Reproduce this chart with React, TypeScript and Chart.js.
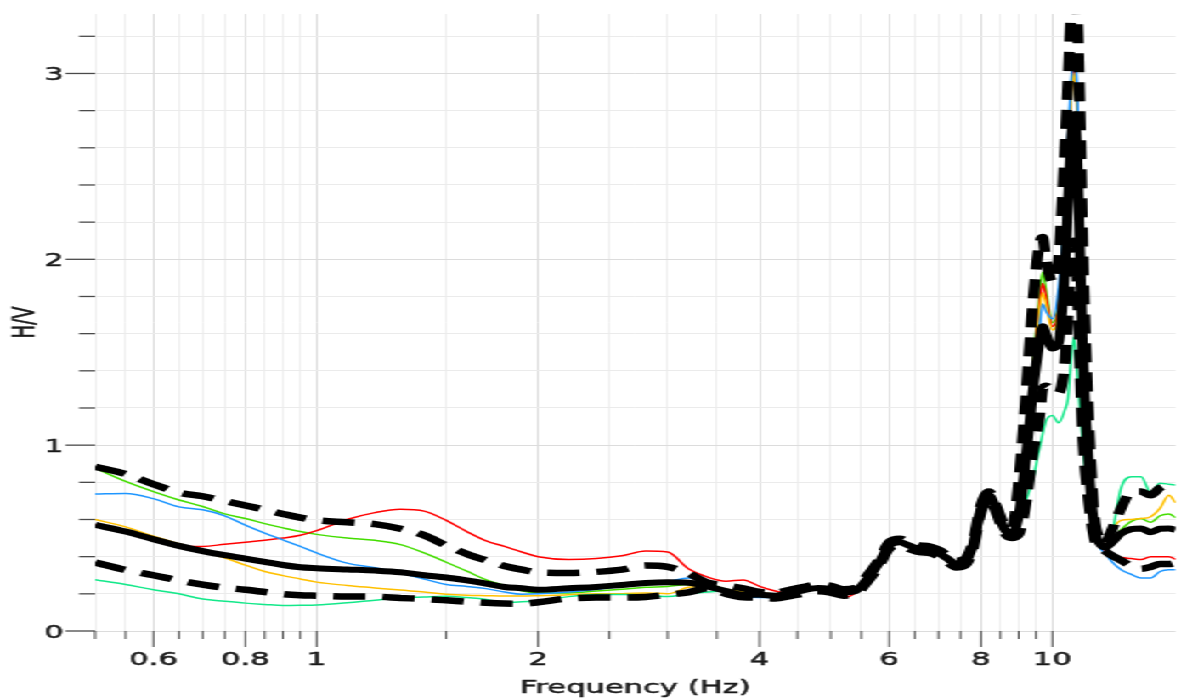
import { useEffect, useRef } from 'react';
import { Chart, registerables } from 'chart.js';

Chart.register(...registerables);

// Frequencies (Hz) at which the H/V curves are sampled
const FREQ = [
  0.5, 0.55, 0.6, 0.65, 0.7, 0.75, 0.8, 0.85, 0.9, 0.95,
  1.0, 1.1, 1.2, 1.3, 1.4, 1.5, 1.6, 1.7, 1.8, 1.9,
  2.0, 2.2, 2.4, 2.6, 2.8, 3.0, 3.2, 3.4, 3.6, 3.8,
  4.0, 4.2, 4.4, 4.6, 4.8, 5.0, 5.2, 5.4, 5.6, 5.8,
  6.0, 6.2, 6.4, 6.6, 6.8, 7.0, 7.2, 7.4, 7.6, 7.8,
  8.0, 8.2, 8.4, 8.6, 8.8, 9.0, 9.2, 9.4, 9.6, 9.7,
  9.8, 10.0, 10.2, 10.4, 10.5, 10.6, 10.7, 10.8, 10.9, 11.0,
  11.2, 11.4, 11.6, 11.8, 12.0, 12.4, 12.8, 13.2, 13.6, 14.0,
  14.4, 14.7,
];

const HV_MEAN = [
  0.571, 0.535, 0.494, 0.458, 0.43, 0.408, 0.39, 0.372, 0.355, 0.343,
  0.338, 0.331, 0.325, 0.316, 0.3, 0.288, 0.272, 0.255, 0.237, 0.23,
  0.222, 0.23, 0.237, 0.248, 0.258, 0.262, 0.26, 0.24, 0.215, 0.195,
  0.195, 0.19, 0.205, 0.22, 0.232, 0.225, 0.208, 0.215, 0.28, 0.36,
  0.46, 0.478, 0.458, 0.442, 0.438, 0.42, 0.39, 0.36, 0.37, 0.46,
  0.66, 0.73, 0.65, 0.55, 0.52, 0.62, 0.92, 1.28, 1.55, 1.64,
  1.6, 1.52, 1.55, 1.95, 2.3, 2.62, 2.78, 2.6, 2.05, 1.5,
  0.9, 0.56, 0.47, 0.45, 0.47, 0.525, 0.548, 0.552, 0.532, 0.55,
  0.552, 0.545,
];

const HV_UPPER = [
  0.884, 0.845, 0.79, 0.745, 0.725, 0.7, 0.675, 0.653, 0.63, 0.61,
  0.596, 0.585, 0.575, 0.55, 0.515, 0.46, 0.415, 0.38, 0.35, 0.33,
  0.315, 0.312, 0.318, 0.33, 0.352, 0.345, 0.31, 0.26, 0.245, 0.23,
  0.21, 0.205, 0.222, 0.238, 0.25, 0.243, 0.225, 0.232, 0.298, 0.378,
  0.478, 0.496, 0.476, 0.46, 0.456, 0.438, 0.408, 0.378, 0.388, 0.48,
  0.68, 0.75, 0.67, 0.57, 0.545, 0.8, 1.25, 1.75, 2.08, 2.12,
  2.0, 1.88, 2.0, 2.6, 2.95, 3.3, 3.45, 3.35, 2.8, 2.05,
  1.15, 0.62, 0.5, 0.47, 0.53, 0.66, 0.75, 0.75, 0.73, 0.77,
  0.785, 0.795,
];

const HV_LOWER = [
  0.369, 0.328, 0.3, 0.272, 0.25, 0.233, 0.222, 0.21, 0.198, 0.192,
  0.19, 0.186, 0.185, 0.178, 0.172, 0.165, 0.158, 0.152, 0.148, 0.147,
  0.155, 0.175, 0.18, 0.18, 0.183, 0.195, 0.208, 0.23, 0.2, 0.182,
  0.18, 0.175, 0.188, 0.202, 0.214, 0.207, 0.19, 0.198, 0.262, 0.342,
  0.442, 0.46, 0.44, 0.424, 0.42, 0.402, 0.372, 0.342, 0.352, 0.44,
  0.64, 0.71, 0.63, 0.53, 0.5, 0.52, 0.68, 0.95, 1.15, 1.3,
  1.32, 1.3, 1.28, 1.45, 1.7, 1.95, 2.1, 1.9, 1.45, 1.05,
  0.7, 0.5, 0.45, 0.43, 0.41, 0.38, 0.35, 0.335, 0.345, 0.36,
  0.36, 0.365,
];

const HV_RED = [
  0.571, 0.535, 0.494, 0.458, 0.455, 0.467, 0.478, 0.488, 0.5, 0.515,
  0.54, 0.6, 0.637, 0.655, 0.645, 0.595, 0.535, 0.485, 0.455, 0.425,
  0.4, 0.385, 0.39, 0.405, 0.43, 0.425, 0.335, 0.29, 0.268, 0.275,
  0.24, 0.215, 0.2, 0.215, 0.228, 0.21, 0.18, 0.205, 0.275, 0.355,
  0.455, 0.48, 0.455, 0.44, 0.435, 0.418, 0.388, 0.358, 0.372, 0.462,
  0.662, 0.728, 0.648, 0.548, 0.522, 0.64, 0.98, 1.38, 1.75, 1.87,
  1.8, 1.64, 1.75, 2.2, 2.55, 2.9, 3.05, 2.85, 2.3, 1.65,
  0.95, 0.56, 0.46, 0.43, 0.41, 0.395, 0.39, 0.385, 0.4, 0.4,
  0.4, 0.385,
];

const HV_YELLOW = [
  0.6, 0.56, 0.51, 0.47, 0.43, 0.393, 0.355, 0.32, 0.298, 0.28,
  0.263, 0.245, 0.232, 0.22, 0.21, 0.198, 0.192, 0.19, 0.188, 0.188,
  0.19, 0.195, 0.2, 0.2, 0.205, 0.2, 0.235, 0.24, 0.225, 0.21,
  0.205, 0.2, 0.21, 0.225, 0.238, 0.23, 0.212, 0.218, 0.282, 0.362,
  0.462, 0.476, 0.456, 0.44, 0.436, 0.422, 0.392, 0.362, 0.37, 0.458,
  0.658, 0.732, 0.652, 0.552, 0.52, 0.63, 0.96, 1.36, 1.72, 1.82,
  1.76, 1.62, 1.72, 2.15, 2.5, 2.85, 3.0, 2.8, 2.25, 1.6,
  0.95, 0.56, 0.47, 0.46, 0.53, 0.595, 0.6, 0.605, 0.615, 0.66,
  0.73, 0.69,
];

const HV_GREEN = [
  0.877, 0.805, 0.75, 0.705, 0.67, 0.63, 0.605, 0.578, 0.555, 0.535,
  0.52, 0.5, 0.488, 0.465, 0.42, 0.37, 0.322, 0.275, 0.245, 0.217,
  0.205, 0.205, 0.215, 0.225, 0.235, 0.24, 0.25, 0.25, 0.225, 0.21,
  0.2, 0.195, 0.205, 0.222, 0.232, 0.228, 0.21, 0.215, 0.28, 0.36,
  0.46, 0.478, 0.46, 0.445, 0.44, 0.42, 0.39, 0.36, 0.37, 0.46,
  0.66, 0.732, 0.655, 0.555, 0.522, 0.64, 1.0, 1.42, 1.8, 1.93,
  1.84, 1.66, 1.78, 2.25, 2.58, 2.92, 3.05, 2.85, 2.3, 1.65,
  0.95, 0.56, 0.46, 0.45, 0.48, 0.545, 0.59, 0.605, 0.585, 0.62,
  0.63, 0.61,
];

const HV_BLUE = [
  0.737, 0.74, 0.712, 0.668, 0.652, 0.62, 0.57, 0.527, 0.49, 0.455,
  0.42, 0.365, 0.34, 0.31, 0.28, 0.25, 0.24, 0.228, 0.21, 0.198,
  0.2, 0.21, 0.225, 0.24, 0.255, 0.265, 0.285, 0.26, 0.21, 0.185,
  0.18, 0.18, 0.188, 0.215, 0.23, 0.226, 0.21, 0.215, 0.285, 0.365,
  0.468, 0.482, 0.458, 0.44, 0.436, 0.418, 0.388, 0.36, 0.372, 0.462,
  0.665, 0.735, 0.65, 0.55, 0.52, 0.65, 0.95, 1.32, 1.62, 1.76,
  1.72, 1.68, 1.85, 2.3, 2.65, 2.95, 3.1, 2.95, 2.4, 1.7,
  0.98, 0.57, 0.45, 0.42, 0.38, 0.33, 0.305, 0.285, 0.285, 0.32,
  0.33, 0.33,
];

const HV_CYAN = [
  0.276, 0.25, 0.222, 0.2, 0.172, 0.16, 0.15, 0.143, 0.137, 0.138,
  0.14, 0.152, 0.166, 0.178, 0.183, 0.187, 0.18, 0.17, 0.152, 0.158,
  0.16, 0.185, 0.196, 0.196, 0.195, 0.185, 0.2, 0.21, 0.215, 0.2,
  0.195, 0.185, 0.2, 0.218, 0.23, 0.222, 0.205, 0.222, 0.285, 0.365,
  0.468, 0.476, 0.462, 0.45, 0.448, 0.425, 0.392, 0.362, 0.368, 0.455,
  0.65, 0.725, 0.645, 0.545, 0.515, 0.6, 0.7, 0.81, 0.98, 1.06,
  1.13, 1.16, 1.12, 1.19, 1.25, 1.45, 1.58, 1.4, 1.2, 1.0,
  0.72, 0.55, 0.48, 0.46, 0.49, 0.77, 0.83, 0.83, 0.745, 0.795,
  0.79, 0.785,
];

// Axis ticks
const X_TICKS = [
  0.5, 0.55, 0.6, 0.65, 0.7, 0.75, 0.8, 0.85, 0.9, 0.95,
  1, 1.5, 2, 2.5, 3, 3.5, 4, 4.5, 5, 5.5, 6, 6.5, 7, 7.5, 8, 8.5, 9, 9.5, 10,
];
const X_LABELS = [0.6, 0.8, 1, 2, 4, 6, 8, 10];
const Y_TICKS = [0, 0.2, 0.4, 0.6, 0.8, 1, 1.2, 1.4, 1.6, 1.8, 2, 2.2, 2.4, 2.6, 2.8, 3, 3.2];
const Y_LABELS = [0, 1, 2, 3];

const X_MIN = 0.5;
const X_MAX = 14.7;
const Y_MIN = 0;
const Y_MAX = 3.32;

const BASE_W = 695;
const STRETCH = 1181 / BASE_W;
const FONT = '"DejaVu Sans", Verdana, sans-serif';

function boldText(ctx: CanvasRenderingContext2D, text: string, x: number, y: number) {
  ctx.fillText(text, x, y);
  ctx.strokeText(text, x, y);
}

const axisDecor = {
  id: 'axisDecor',
  afterDraw(chart: any) {
    const { ctx, chartArea } = chart;
    const xs = chart.scales.x;
    const ys = chart.scales.y;
    ctx.save();
    ctx.strokeStyle = '#4a4a4a';
    ctx.lineWidth = 1;
    for (const v of X_TICKS) {
      const px = xs.getPixelForValue(v);
      const len = X_LABELS.includes(v) ? 16 : 8;
      ctx.beginPath();
      ctx.moveTo(px, chartArea.bottom);
      ctx.lineTo(px, chartArea.bottom + len);
      ctx.stroke();
    }
    ctx.lineWidth = 1.3;
    for (const v of Y_TICKS) {
      const py = ys.getPixelForValue(v);
      const len = Y_LABELS.includes(v) ? 17.5 : 9.5;
      ctx.beginPath();
      ctx.moveTo(chartArea.left - len, py);
      ctx.lineTo(chartArea.left, py);
      ctx.stroke();
    }
    ctx.fillStyle = '#1a1a1a';
    ctx.strokeStyle = '#1a1a1a';
    ctx.lineWidth = 0.5;
    ctx.font = '18px ' + FONT;
    ctx.textAlign = 'center';
    ctx.textBaseline = 'alphabetic';
    for (const v of X_LABELS) {
      boldText(ctx, String(v), xs.getPixelForValue(v), 665);
    }
    ctx.textAlign = 'right';
    for (const v of Y_LABELS) {
      boldText(ctx, String(v), chartArea.left - 18.5, ys.getPixelForValue(v) + 6.5);
    }
    ctx.textAlign = 'center';
    boldText(ctx, 'Frequency (Hz)', (chartArea.left + chartArea.right) / 2, 693);
    ctx.translate(15, (chartArea.top + chartArea.bottom) / 2);
    ctx.rotate(-Math.PI / 2);
    ctx.textBaseline = 'middle';
    boldText(ctx, 'H/V', 0, 0);
    ctx.restore();
  },
};

function pts(values: number[]) {
  return FREQ.map((f, i) => ({ x: f, y: values[i] }));
}

function thin(label: string, values: number[], color: string) {
  return {
    label,
    data: pts(values),
    borderColor: color,
    borderWidth: 1.5,
    pointRadius: 0,
    fill: false,
    cubicInterpolationMode: 'monotone' as const,
    order: 2,
  };
}

export default function App() {
  const canvasRef = useRef<HTMLCanvasElement | null>(null);

  useEffect(() => {
    if (!canvasRef.current) return;
    const chart = new Chart(canvasRef.current, {
      type: 'line',
      data: {
        datasets: [
          {
            label: 'Mean',
            data: pts(HV_MEAN),
            borderColor: '#000000',
            borderWidth: 6,
            pointRadius: 0,
            fill: false,
            borderJoinStyle: 'round',
            cubicInterpolationMode: 'monotone',
            order: 0,
          },
          {
            label: 'Mean + std',
            data: pts(HV_UPPER),
            borderColor: '#000000',
            borderWidth: 6.5,
            borderDash: [19, 10],
            pointRadius: 0,
            fill: false,
            borderJoinStyle: 'bevel',
            cubicInterpolationMode: 'monotone',
            order: 1,
          },
          {
            label: 'Mean - std',
            data: pts(HV_LOWER),
            borderColor: '#000000',
            borderWidth: 6.5,
            borderDash: [19, 10],
            pointRadius: 0,
            fill: false,
            borderJoinStyle: 'bevel',
            cubicInterpolationMode: 'monotone',
            order: 1,
          },
          thin('Cyan', HV_CYAN, '#14e88a'),
          thin('Blue', HV_BLUE, '#1e96ff'),
          thin('Yellow', HV_YELLOW, '#ffc000'),
          thin('Red', HV_RED, '#ff0000'),
          thin('Green', HV_GREEN, '#44dd00'),
        ] as any,
      },
      options: {
        animation: false,
        responsive: true,
        maintainAspectRatio: false,
        layout: { padding: { top: 14, right: 0, left: 0, bottom: 0 } },
        plugins: {
          legend: { display: false },
          tooltip: { enabled: false },
          title: { display: false },
        },
        scales: {
          x: {
            type: 'logarithmic',
            bounds: 'data',
            min: X_MIN,
            max: X_MAX,
            afterBuildTicks: (s: any) => {
              s.ticks = X_TICKS.map((v) => ({ value: v }));
            },
            afterFit: (s: any) => {
              s.height = 68;
            },
            ticks: { display: false },
            grid: {
              drawTicks: false,
              lineWidth: 1,
              color: (c: any) => (X_LABELS.includes(c.tick?.value) ? '#dddddd' : '#efefef'),
            },
            border: { display: false },
          },
          y: {
            type: 'linear',
            bounds: 'data',
            min: Y_MIN,
            max: Y_MAX,
            afterBuildTicks: (s: any) => {
              s.ticks = Y_TICKS.map((v) => ({ value: v }));
            },
            afterFit: (s: any) => {
              s.width = 56;
            },
            ticks: { display: false },
            grid: {
              drawTicks: false,
              lineWidth: 1,
              color: (c: any) => (Y_LABELS.includes(c.tick?.value) ? '#dcdcdc' : '#ebebeb'),
            },
            border: { display: false },
          },
        },
      } as any,
      plugins: [axisDecor],
    });
    return () => chart.destroy();
  }, []);

  return (
    <div
      style={{
        position: 'fixed',
        left: 0,
        top: 0,
        width: BASE_W + 'px',
        height: '699px',
        transform: `scaleX(${STRETCH})`,
        transformOrigin: '0 0',
        background: '#ffffff',
      }}
    >
      <canvas ref={canvasRef} />
    </div>
  );
}
